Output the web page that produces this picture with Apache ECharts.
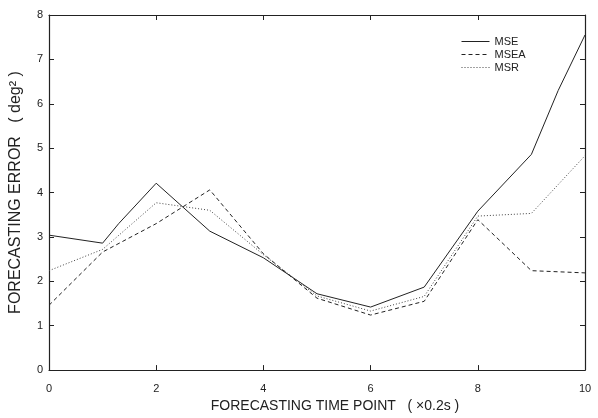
<!DOCTYPE html>
<html>
<head>
<meta charset="utf-8">
<script src="https://cdn.jsdelivr.net/npm/echarts@6/dist/echarts.min.js"></script>
<style>html,body{margin:0;padding:0;background:#fff;}#c{width:598px;height:418px;}</style>
</head>
<body>
<div id="c"></div>
<script>
const seriesNames = ['MSE', 'MSEA', 'MSR'];
const mseX = [0, 1, 1.3, 2, 3, 4, 5, 6, 7, 8, 9, 9.5, 10];
const mseY = [3.04, 2.86, 3.3, 4.21, 3.13, 2.53, 1.72, 1.42, 1.87, 3.58, 4.86, 6.3, 7.55];
const mseaX = [0, 1, 2, 3, 4, 5, 6, 7, 8, 9, 10];
const mseaY = [1.46, 2.66, 3.3, 4.06, 2.62, 1.62, 1.24, 1.55, 3.39, 2.24, 2.19];
const msrX = [0, 1, 2, 3, 4, 5, 6, 7, 8, 9, 10];
const msrY = [2.24, 2.72, 3.77, 3.6, 2.6, 1.67, 1.33, 1.66, 3.47, 3.53, 4.83];
const xTicks = [0, 2, 4, 6, 8, 10];
const yTicks = [0, 1, 2, 3, 4, 5, 6, 7, 8];

const pairs = (xs, ys) => xs.map((x, i) => [x, ys[i]]);
const font = 'Liberation Sans, Arial, sans-serif';
const ink = '#222';

const chart = echarts.init(document.getElementById('c'), null, {renderer: 'canvas'});
const axisBase = {
  axisLine: {show: true, onZero: false, lineStyle: {color: ink, width: 1.2}},
  axisTick: {show: true, inside: true, length: 5, lineStyle: {color: ink}},
  splitLine: {show: false}
};
chart.setOption({
  animation: false,
  backgroundColor: '#fff',
  grid: {left: 48, right: 13, top: 15, bottom: 42, containLabel: false},
  legend: {
    data: seriesNames,
    orient: 'vertical',
    left: 456, top: 31,
    itemWidth: 28, itemHeight: 6, itemGap: 2,
    itemStyle: {opacity: 0},
    lineStyle: {width: 1},
    textStyle: {fontFamily: font, fontSize: 11, color: ink}
  },
  xAxis: [
    Object.assign({}, axisBase, {
      type: 'value', min: 0, max: 10, interval: 2, position: 'bottom',
      name: 'FORECASTING TIME POINT   ( \u00d70.2s )',
      nameLocation: 'middle', nameGap: 28,
      nameTextStyle: {fontFamily: font, fontSize: 14, color: ink, padding: [0, 0, 0, 36]},
      axisLabel: {fontFamily: font, fontSize: 11, color: ink, margin: 13,
        formatter: v => xTicks.includes(v) ? String(v) : ''}
    }),
    Object.assign({}, axisBase, {
      type: 'value', min: 0, max: 10, interval: 2, position: 'top',
      axisLabel: {show: false}
    })
  ],
  yAxis: [
    Object.assign({}, axisBase, {
      type: 'value', min: 0, max: 8, interval: 1, position: 'left',
      name: 'FORECASTING ERROR   ( deg\u00b2 )',
      nameLocation: 'middle', nameGap: 25, nameRotate: 90,
      nameTextStyle: {fontFamily: font, fontSize: 16, color: ink},
      axisLabel: {fontFamily: font, fontSize: 11, color: ink, margin: 6,
        formatter: v => yTicks.includes(v) ? String(v) : ''}
    }),
    Object.assign({}, axisBase, {
      type: 'value', min: 0, max: 8, interval: 1, position: 'right',
      axisLabel: {show: false}
    })
  ],
  series: [
    {name: 'MSE', type: 'line', data: pairs(mseX, mseY), symbol: 'none',
     lineStyle: {color: ink, width: 1, type: 'solid'}, itemStyle: {color: ink}},
    {name: 'MSEA', type: 'line', data: pairs(mseaX, mseaY), symbol: 'none',
     lineStyle: {color: ink, width: 1, type: [4, 3]}, itemStyle: {color: ink}},
    {name: 'MSR', type: 'line', data: pairs(msrX, msrY), symbol: 'none',
     lineStyle: {color: '#444', width: 1, type: [1, 2]}, itemStyle: {color: '#444'}}
  ]
});
</script>
</body>
</html>
